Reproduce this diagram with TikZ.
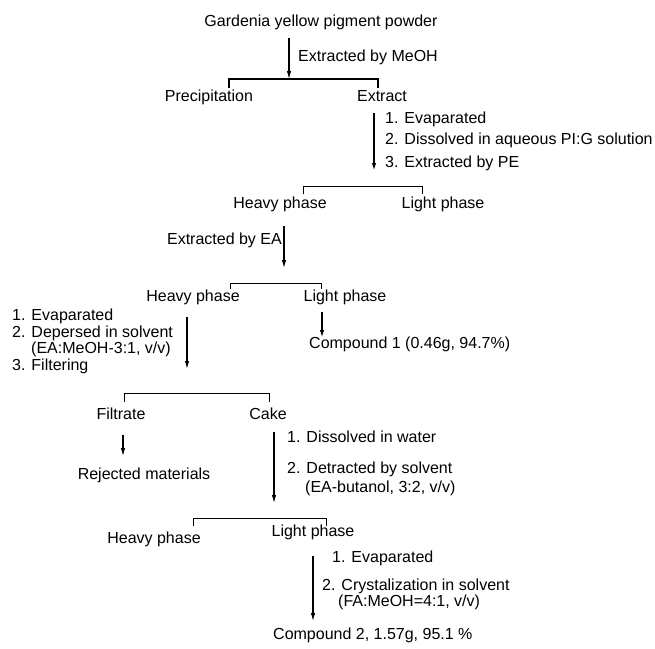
\documentclass[tikz,border=0pt]{standalone}
\usepackage{fontspec}
\setmainfont{Liberation Sans}
\usetikzlibrary{arrows.meta}
\tikzset{
  lbl/.style={inner sep=0pt,anchor=mid,font=\fontsize{16}{19}\selectfont},
  note/.style={lbl,anchor=mid west},
  flow/.style={line width=1.1pt,-{Latex[length=8pt,width=4.5pt]}},
  split/.style={line width=0.9pt}
}
\begin{document}
\begin{tikzpicture}[x=1pt,y=-1pt]
\useasboundingbox (0,0) rectangle (655,648);
% first extraction
\node[lbl] (pow) at (321,24) {Gardenia yellow pigment powder};
\coordinate (a1s) at (289,38);
\coordinate (b1m) at (289,79);
\coordinate (b1l) at (229,79);
\coordinate (b1r) at (378,79);
\node[note] (meoh) at (298,59) {Extracted by MeOH};
\draw[flow] (a1s)--(b1m);
\draw[split,line width=1.8pt] (b1l) ++(0,9) -- (b1l) -- (b1r) -- ++(0,9);
\node[lbl] (prec) at (209,99) {Precipitation};
\node[lbl] (extr) at (382,99) {Extract};
% PE step
\coordinate (a2s) at (374,113);
\coordinate (a2e) at (374,171);
\draw[flow,line width=1.6pt] (a2s)--(a2e);
\node[note] (e1) at (385,121) {1. Evaparated};
\node[note] (e2) at (385,142) {2. Dissolved in aqueous PI:G solution};
\node[note] (e3) at (385,165) {3. Extracted by PE};
\coordinate (b2l) at (303,186);
\coordinate (b2r) at (422,186);
\draw[split] (b2l) ++(0,8) -- (b2l) -- (b2r) -- ++(0,8);
\node[lbl] (hp1) at (280,206) {Heavy phase};
\node[lbl] (lp1) at (443,206) {Light phase};
% EA step
\node[lbl,anchor=mid east] (ea) at (282,242) {Extracted by EA};
\coordinate (a3s) at (284,226);
\coordinate (a3e) at (284,268);
\draw[flow] (a3s)--(a3e);
\coordinate (b3l) at (230,283);
\coordinate (b3r) at (321,283);
\draw[split] (b3l) ++(0,6) -- (b3l) -- (b3r) -- ++(0,6);
\node[lbl] (hp2) at (193,299) {Heavy phase};
\node[lbl] (lp2) at (345,299) {Light phase};
\coordinate (a5s) at (322,312);
\coordinate (a5e) at (322,338);
\draw[flow,line width=1.8pt] (a5s)--(a5e);
\node[note] (c1) at (309,346) {Compound 1 (0.46g, 94.7\%)};
% filtering
\coordinate (a4s) at (187,317);
\coordinate (a4e) at (187,369);
\draw[flow] (a4s)--(a4e);
\node[note] (f1) at (12,318) {1. Evaparated};
\node[note] (f2) at (12,335) {2. Depersed in solvent};
\node[note] (f2b) at (31,351) {(EA:MeOH-3:1, v/v)};
\node[note] (f3) at (12,368) {3. Filtering};
\coordinate (b4l) at (124,393);
\coordinate (b4r) at (269,393);
\draw[split] (b4l) ++(0,9) -- (b4l) -- (b4r) -- ++(0,9);
\node[lbl] (filt) at (121,417) {Filtrate};
\node[lbl] (cake) at (268,417) {Cake};
\coordinate (a6s) at (123,435);
\coordinate (a6e) at (123,456);
\draw[flow] (a6s)--(a6e);
\node[lbl] (rej) at (144,477) {Rejected materials};
% butanol step
\coordinate (a7s) at (274,432);
\coordinate (a7e) at (274,503);
\draw[flow] (a7s)--(a7e);
\node[note] (d1) at (287,440) {1. Dissolved in water};
\node[note] (d2) at (287,471) {2. Detracted by solvent};
\node[note] (d2b) at (305,490) {(EA-butanol, 3:2, v/v)};
\coordinate (b5l) at (193,518);
\coordinate (b5r) at (326,518);
\draw[split] (b5l) ++(0,8) -- (b5l) -- (b5r) -- ++(0,8);
\node[lbl] (hp3) at (154,541) {Heavy phase};
\node[lbl] (lp3) at (313,534) {Light phase};
% crystalization
\coordinate (a8s) at (313,556);
\coordinate (a8e) at (313,621);
\draw[flow] (a8s)--(a8e);
\node[note] (k1) at (332,560) {1. Evaparated};
\node[note] (k2) at (322,588) {2. Crystalization in solvent};
\node[note] (k2b) at (338,604) {(FA:MeOH=4:1, v/v)};
\node[note] (c2) at (273,637) {Compound 2, 1.57g, 95.1 \%};
\end{tikzpicture}
\end{document}
